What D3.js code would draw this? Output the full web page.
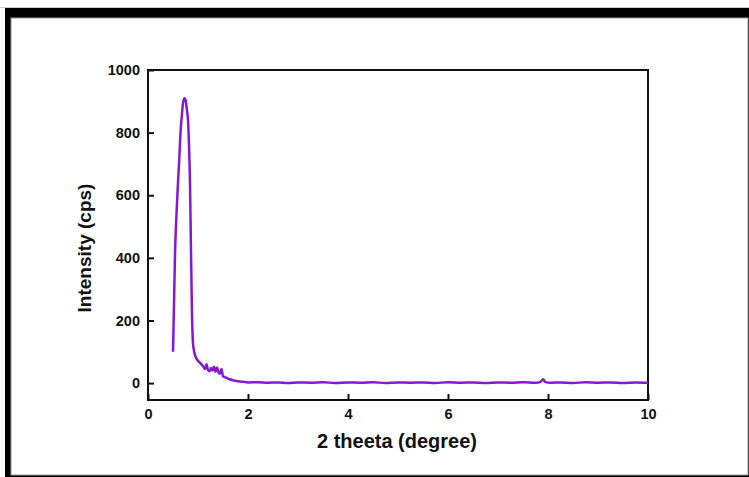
<!DOCTYPE html>
<html>
<head>
    <title>XRD Pattern</title>
    <script src="https://d3js.org/d3.v7.min.js"></script>
    <style>
        body { margin: 0; background: #fff; }
        svg { display: block; }
        .tick text {
            font-family: "Liberation Sans", Arial, sans-serif;
            font-weight: bold;
            font-size: 14.5px;
            fill: #111;
        }
        .axis-title {
            font-family: "Liberation Sans", Arial, sans-serif;
            font-weight: bold;
            fill: #111;
        }
    </style>
</head>
<body>
    <svg></svg>
    <script>
        // Datos
        const theta = [
            0.50, 0.52, 0.54, 0.57, 0.60, 0.63, 0.65, 0.68, 0.70, 0.73, 0.75, 0.78, 0.80,
            0.82, 0.84, 0.86, 0.88, 0.90, 0.93, 0.97, 1.02, 1.07, 1.11, 1.14, 1.17, 1.20,
            1.23, 1.26, 1.29, 1.32, 1.35, 1.38, 1.41, 1.44, 1.47, 1.50, 1.55, 1.62, 1.70,
            1.80, 1.90, 2.00, 2.20, 2.40, 2.60, 2.80, 3.00, 3.25, 3.50, 3.75, 4.00, 4.25,
            4.50, 4.75, 5.00, 5.25, 5.50, 5.75, 6.00, 6.25, 6.50, 6.75, 7.00, 7.25, 7.50,
            7.75, 7.85, 7.90, 7.95, 8.05, 8.25, 8.50, 8.75, 9.00, 9.25, 9.50, 9.75, 10.00
        ];
        const intensity = [
            100, 250, 410, 540, 640, 730, 800, 860, 895, 910, 905, 870, 840,
            760, 640, 420, 220, 128, 95, 78, 68, 60, 52, 45, 60, 42,
            38, 48, 40, 52, 36, 50, 34, 30, 45, 22, 18, 13, 9,
            6, 4, 2, 3, 1, 2, 0, 2, 1, 3, 0, 2, 1,
            3, 0, 2, 1, 2, 0, 3, 1, 2, 0, 2, 1, 3,
            1, 4, 12, 3, 1, 2, 0, 3, 1, 2, 0, 2, 1
        ];
        const xTicks = [0, 2, 4, 6, 8, 10];
        const yTicks = [0, 200, 400, 600, 800, 1000];

        const width = 749;
        const height = 477;
        const margin = { top: 70, right: 101, bottom: 77, left: 148 };

        const svg = d3.select("svg")
            .attr("width", width)
            .attr("height", height);

        // Marco exterior
        svg.append("rect")
            .attr("x", 0).attr("y", 0)
            .attr("width", width).attr("height", height)
            .attr("fill", "#fff");
        svg.append("line")
            .attr("x1", 0).attr("x2", width)
            .attr("y1", 7.5).attr("y2", 7.5)
            .attr("stroke", "#ccc");
        svg.append("rect")
            .attr("x", 5).attr("y", 8)
            .attr("width", width - 5).attr("height", height - 8)
            .attr("fill", "#000");
        svg.append("rect")
            .attr("x", 11).attr("y", 18)
            .attr("width", 737).attr("height", 457)
            .attr("fill", "#fff")
            .attr("stroke", "#999")
            .attr("stroke-width", 1);

        const x = d3.scaleLinear()
            .domain([0, 10])
            .range([margin.left, width - margin.right]);

        const y = d3.scaleLinear()
            .domain([-54, 1000])
            .range([height - margin.bottom, margin.top]);

        // Ejes
        const xAxis = svg.append("g")
            .attr("transform", `translate(0,${height - margin.bottom})`)
            .call(d3.axisBottom(x).tickValues(xTicks).tickSize(-6).tickPadding(9));

        const yAxis = svg.append("g")
            .attr("transform", `translate(${margin.left},0)`)
            .call(d3.axisLeft(y).tickValues(yTicks).tickFormat(d3.format("d"))
                .tickSize(-6).tickPadding(8));

        [xAxis, yAxis].forEach(g => {
            g.select(".domain").remove();
            g.selectAll(".tick line").attr("stroke", "#111").attr("stroke-width", 2);
        });

        // Caja del gráfico
        svg.append("rect")
            .attr("x", x(0))
            .attr("y", y(1000))
            .attr("width", x(10) - x(0))
            .attr("height", y(-54) - y(1000))
            .attr("fill", "none")
            .attr("stroke", "#111")
            .attr("stroke-width", 2);

        // Curva
        const points = theta.map((t, i) => [t, intensity[i]]);
        const line = d3.line()
            .x(d => x(d[0]))
            .y(d => y(d[1]))
            .curve(d3.curveMonotoneX);

        svg.append("path")
            .datum(points)
            .attr("fill", "none")
            .attr("stroke", "#8618d2")
            .attr("stroke-width", 2.5)
            .attr("stroke-linejoin", "round")
            .attr("d", line);

        // Títulos
        svg.append("text")
            .attr("class", "axis-title")
            .attr("x", 397)
            .attr("y", 448)
            .attr("text-anchor", "middle")
            .style("font-size", "20px")
            .text("2 theeta (degree)");

        svg.append("text")
            .attr("class", "axis-title")
            .attr("transform", "translate(91,248) rotate(-90)")
            .attr("text-anchor", "middle")
            .style("font-size", "19px")
            .text("Intensity (cps)");
    </script>
</body>
</html>
